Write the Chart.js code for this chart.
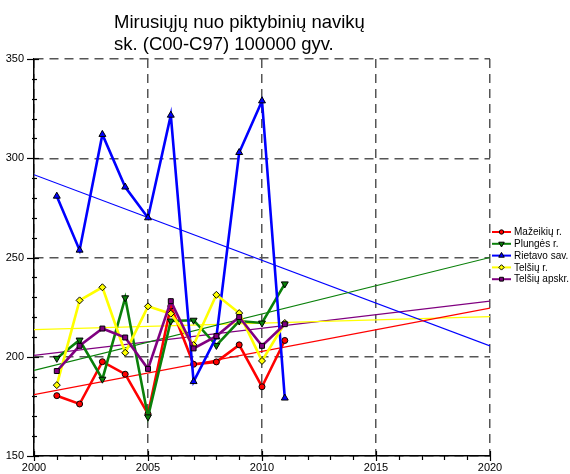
<!DOCTYPE html>
<html>
<head>
<meta charset="utf-8">
<script src="https://cdn.jsdelivr.net/npm/chart.js@4/dist/chart.umd.min.js"></script>
<style>
html, body { margin: 0; padding: 0; background: #fff; }
#wrap { width: 570px; height: 474px; }
</style>
</head>
<body>
<div id="wrap"><canvas id="chart" width="570" height="474"></canvas></div>
<script>
// values
const years = [2001, 2002, 2003, 2004, 2005, 2006, 2007, 2008, 2009, 2010, 2011];
const seriesNames = ['Mažeikių r.', 'Plungės r.', 'Rietavo sav.', 'Telšių r.', 'Telšių apskr.'];
const mazeikiai = [180.4, 176.2, 197.5, 191.2, 171.2, 225.5, 196.2, 197.4, 206.0, 184.9, 208.2];
const plunge = [199.2, 208.4, 188.7, 229.7, 169.7, 218.0, 218.4, 205.7, 218.0, 217.0, 236.7];
const rietavas = [280.9, 253.7, 312.0, 285.5, 270.0, 321.7, 187.5, 210.0, 302.9, 328.9, 179.2];
const telsiaiR = [185.7, 228.4, 235.0, 202.0, 225.4, 221.7, 205.9, 231.2, 222.0, 197.9, 217.0];
const telsiaiAps = [192.8, 205.5, 214.2, 209.7, 193.9, 228.0, 204.2, 210.4, 220.0, 205.5, 216.4];

// trend lines (value at 2000 and at 2020)
const trendYears = [2000, 2020];
const mazeikiaiTrend = [180.9, 224.5];
const plungeTrend = [193.1, 250.0];
const rietavasTrend = [291.7, 205.5];
const telsiaiRTrend = [213.7, 220.2];
const telsiaiApsTrend = [200.7, 228.0];

const xTicks = [2000, 2005, 2010, 2015, 2020];
const yTicks = [150, 200, 250, 300, 350];
const titleLines = ['Mirusiųjų nuo piktybinių navikų', 'sk. (C00-C97) 100000 gyv.'];

const colors = ['#ff0000', '#0a800a', '#0000ff', '#ffff00', '#800080'];
const markers = ['circle', 'triangle', 'triangle', 'rectRot', 'rect'];
const rotations = [0, 180, 0, 0, 0];
const radii = [3, 4, 4, 3.5, 3.5];
const FONT = '"Liberation Sans", Arial, sans-serif';

function pts(xs, ys) {
    return xs.map((x, i) => ({x: x, y: ys[i]}));
}

const mainData = [mazeikiai, plunge, rietavas, telsiaiR, telsiaiAps];
const trendData = [mazeikiaiTrend, plungeTrend, rietavasTrend, telsiaiRTrend, telsiaiApsTrend];

let datasets = [];
trendData.forEach((t, i) => {
    datasets.push({
        label: seriesNames[i] + ' trend',
        data: pts(trendYears, t),
        borderColor: colors[i],
        borderWidth: 1.2,
        pointRadius: 0,
        fill: false,
        order: 10
    });
});
mainData.forEach((d, i) => {
    datasets.push({
        label: seriesNames[i],
        data: pts(years, d),
        borderColor: colors[i],
        backgroundColor: colors[i],
        borderWidth: 2.6,
        pointStyle: markers[i],
        rotation: rotations[i],
        pointRadius: radii[i],
        pointBackgroundColor: colors[i],
        pointBorderColor: '#000',
        pointBorderWidth: 1,
        fill: false,
        order: 5 - i
    });
});

// title, legend and minor ticks
const extras = {
    id: 'extras',
    afterDraw(chart) {
        const ctx = chart.ctx;
        const xs = chart.scales.x, ys = chart.scales.y;
        ctx.save();
        // ticks
        ctx.strokeStyle = '#000';
        ctx.lineWidth = 1.2;
        const bottom = ys.getPixelForValue(150);
        const left = xs.getPixelForValue(2000);
        for (let yr = 2000; yr <= 2020; yr++) {
            const px = Math.round(xs.getPixelForValue(yr)) + 0.5;
            ctx.beginPath();
            if (yr % 5 === 0) { ctx.moveTo(px, bottom - 5); ctx.lineTo(px, bottom + 5); }
            else { ctx.moveTo(px, bottom); ctx.lineTo(px, bottom + 4); }
            ctx.stroke();
        }
        for (let v = 150; v <= 350; v += 10) {
            const py = Math.round(ys.getPixelForValue(v)) + 0.5;
            ctx.beginPath();
            if (v % 50 === 0) { ctx.moveTo(left - 7, py); ctx.lineTo(left + 5, py); }
            else { ctx.moveTo(left - 2, py); ctx.lineTo(left + 3, py); }
            ctx.stroke();
        }
        // title
        ctx.fillStyle = '#000';
        ctx.font = '18.5px ' + FONT;
        ctx.textAlign = 'left';
        ctx.textBaseline = 'alphabetic';
        ctx.fillText(titleLines[0], 114, 28);
        ctx.fillText(titleLines[1], 114, 50);
        // legend
        ctx.font = '10px ' + FONT;
        ctx.textBaseline = 'middle';
        seriesNames.forEach((name, i) => {
            const y = 232 + i * 11.8;
            ctx.strokeStyle = colors[i];
            ctx.lineWidth = 2;
            ctx.beginPath();
            ctx.moveTo(492, y);
            ctx.lineTo(511, y);
            ctx.stroke();
            ctx.fillStyle = colors[i];
            ctx.strokeStyle = '#000';
            ctx.lineWidth = 1;
            Chart.helpers.drawPoint(ctx, {
                pointStyle: markers[i], rotation: rotations[i], radius: radii[i] - 0.8,
                borderWidth: 1
            }, 501.5, y);
            ctx.fillStyle = '#000';
            ctx.fillText(name, 514, y + 0.5);
        });
        ctx.restore();
    }
};

new Chart(document.getElementById('chart').getContext('2d'), {
    type: 'line',
    data: { datasets: datasets },
    options: {
        responsive: false,
        animation: false,
        events: [],
        layout: { padding: { top: 59, right: 80, left: 0, bottom: 0 } },
        plugins: {
            legend: { display: false },
            title: { display: false },
            tooltip: { enabled: false }
        },
        elements: { line: { tension: 0 } },
        scales: {
            x: {
                type: 'linear',
                min: 2000,
                max: 2020,
                afterFit: (s) => { s.height = 18; },
                afterBuildTicks: (s) => { s.ticks = xTicks.map(v => ({value: v})); },
                ticks: {
                    color: '#000',
                    font: { family: FONT, size: 11 },
                    padding: 5,
                    maxRotation: 0,
                    callback: (v) => String(v)
                },
                grid: { color: '#555', lineWidth: 1.5, drawTicks: false },
                border: { display: true, color: '#000', width: 1.5, dash: [9, 6] }
            },
            y: {
                min: 150,
                max: 350,
                afterFit: (s) => { s.width = 34; },
                afterBuildTicks: (s) => { s.ticks = yTicks.map(v => ({value: v})); },
                ticks: {
                    color: '#000',
                    font: { family: FONT, size: 11 },
                    padding: 10,
                    callback: (v) => String(v)
                },
                grid: { color: '#555', lineWidth: 1.5, drawTicks: false },
                border: { display: true, color: '#000', width: 1.5, dash: [9, 6] }
            }
        }
    },
    plugins: [extras]
});
</script>
</body>
</html>
